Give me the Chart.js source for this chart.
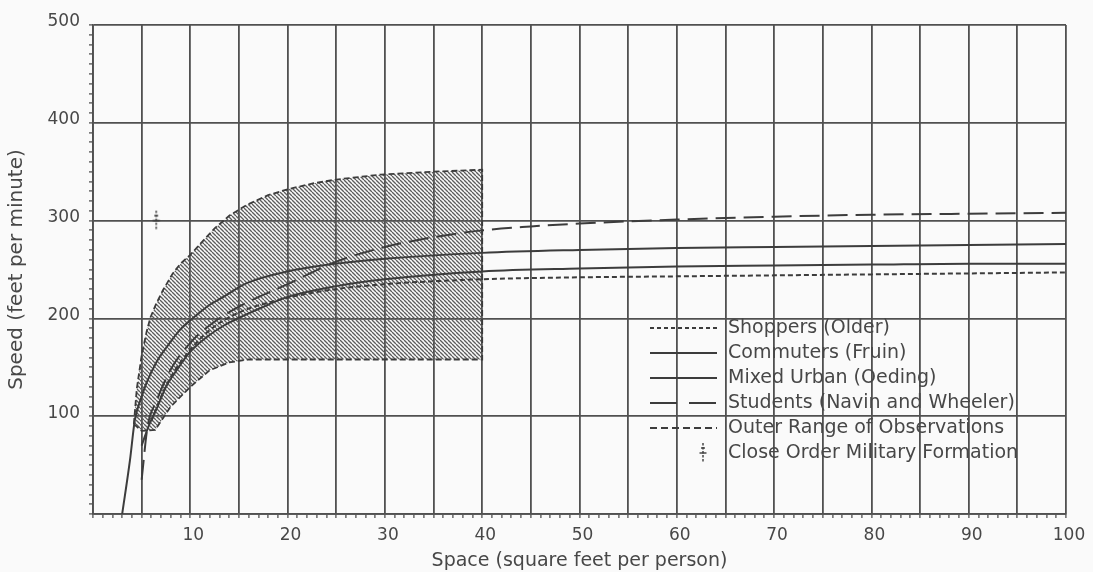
<!DOCTYPE html>
<html>
<head>
<meta charset="utf-8">
<script src="https://cdn.jsdelivr.net/npm/chart.js@4.4.1/dist/chart.umd.min.js"></script>
<style>
  html, body { margin: 0; padding: 0; background: #fafafa; }
  #wrap { width: 1093px; height: 572px; position: relative; }
</style>
</head>
<body>
<div id="wrap"><canvas id="chart" width="1093" height="572"></canvas></div>
<script>
// Tick labels
const xTickLabels = [10, 20, 30, 40, 50, 60, 70, 80, 90, 100];
const yTickLabels = [100, 200, 300, 400, 500];

// Shoppers (Older)
const shoppersX = [6, 7, 8, 10, 12, 15, 20, 25, 30, 40, 50, 60, 70, 80, 90, 100];
const shoppersY = [95, 120, 140, 168, 188, 206, 221, 230, 235, 240, 242, 243, 244, 245, 246, 247];

// Commuters (Fruin)
const commutersX = [3, 3.8, 4.3, 5, 5.5, 6.5, 7.6, 9, 10, 12, 13.4, 15.8, 20, 25, 30, 40, 50, 60, 70, 80, 90, 100];
const commutersY = [0, 55, 96, 120, 134, 155, 171, 189, 198, 214, 222, 236, 248, 256, 261, 267, 270, 272, 273, 274, 275, 276];

// Mixed Urban (Oeding)
const mixedX = [5, 5.8, 6.6, 7.5, 8.6, 10, 11.7, 13.5, 15.1, 18, 20, 25, 30, 40, 50, 60, 70, 80, 90, 100];
const mixedY = [70, 92, 109, 130, 147, 166, 181, 193, 201, 214, 222, 233, 240, 248, 251, 253, 254, 255, 256, 256];

// Students (Navin and Wheeler)
const studentsX = [5, 5.6, 6.5, 8, 10, 12, 15, 20, 25, 30, 35, 40, 45, 50, 60, 70, 80, 90, 100];
const studentsY = [35, 89, 115, 148, 175, 193, 212, 235, 258, 273, 283, 290, 294, 297, 301, 304, 306, 307, 308];

// Outer range of observations: upper edge left to right, then lower edge right to left
const outerUpperX = [4.2, 4.5, 5, 5.5, 5.9, 6.5, 7.2, 8.2, 9, 10, 11, 12.5, 14, 15.8, 18, 20, 22.6, 25, 29.5, 35, 40];
const outerUpperY = [92, 128, 162, 186, 201, 215, 229, 246, 256, 265, 276, 292, 305, 316, 326, 332, 338, 342, 347, 350, 352];
const outerLowerX = [40, 30, 20, 16, 14, 12, 10, 8, 6.4, 5, 4.2];
const outerLowerY = [158, 158, 158, 158, 155, 147, 130, 110, 86, 85, 92];

// Close order military formation
const militaryX = [6.5];
const militaryY = [300];

const pts = (xs, ys) => xs.map((x, i) => ({ x: x, y: ys[i] }));

const INK = '#3c3c3c';
const GRID = '#505050';
const TEXT = '#474747';
const FONT = "'DejaVu Sans', sans-serif";

// diagonal hatching for the observation band
function makeHatch() {
  const s = 4;
  const c = document.createElement('canvas');
  c.width = s; c.height = s;
  const g = c.getContext('2d');
  g.strokeStyle = '#5c5c5c';
  g.lineWidth = 1.35;
  g.beginPath();
  g.moveTo(0, 0); g.lineTo(s, s);
  g.moveTo(-s, 0); g.lineTo(0, s);
  g.moveTo(0, -s); g.lineTo(s, 0);
  g.moveTo(s, -s); g.lineTo(2 * s, 0);
  g.moveTo(-s, s); g.lineTo(0, 2 * s);
  g.stroke();
  return document.createElement('canvas').getContext('2d').createPattern(c, 'repeat');
}

// dotted vertical mark with cross bars
function makeMilitaryMark() {
  const c = document.createElement('canvas');
  c.width = 10; c.height = 22;
  const g = c.getContext('2d');
  g.strokeStyle = INK;
  g.lineWidth = 1.4;
  g.setLineDash([2.5, 1.5]);
  g.beginPath(); g.moveTo(5, 1); g.lineTo(5, 21); g.stroke();
  g.setLineDash([]);
  g.beginPath(); g.moveTo(1.5, 11); g.lineTo(8.5, 11); g.stroke();
  g.beginPath(); g.moveTo(3, 6); g.lineTo(7, 6); g.stroke();
  return c;
}

const hatch = makeHatch();
const militaryMark = makeMilitaryMark();

// legend drawn inside the plot area
const inPlotLegend = {
  id: 'inPlotLegend',
  afterDatasetsDraw(chart, args, o) {
    const ctx = chart.ctx;
    ctx.save();
    ctx.font = o.size + 'px ' + FONT;
    ctx.textBaseline = 'middle';
    ctx.textAlign = 'left';
    chart.data.datasets.forEach((ds, i) => {
      const y = o.top + i * o.rowGap;
      if (ds.showLine === false) {
        ctx.drawImage(ds.pointStyle, o.symbolX - ds.pointStyle.width / 2, y - ds.pointStyle.height / 2);
      } else {
        ctx.strokeStyle = ds.borderColor;
        ctx.lineWidth = ds.borderWidth;
        ctx.setLineDash(ds.legendDash || ds.borderDash || []);
        ctx.beginPath();
        ctx.moveTo(o.x0, y);
        ctx.lineTo(o.x1, y);
        ctx.stroke();
        ctx.setLineDash([]);
      }
      ctx.fillStyle = o.color;
      ctx.fillText(ds.label, o.textX, y);
    });
    ctx.restore();
  }
};

const curve = (label, data, dash, legendDash) => ({
  label: label,
  data: data,
  showLine: true,
  borderColor: INK,
  borderWidth: 2,
  borderDash: dash,
  legendDash: legendDash,
  pointRadius: 0,
  fill: false,
  cubicInterpolationMode: 'monotone'
});

new Chart(document.getElementById('chart'), {
  type: 'line',
  data: {
    datasets: [
      curve('Shoppers (Older)', pts(shoppersX, shoppersY), [5, 3], [4, 3]),
      curve('Commuters (Fruin)', pts(commutersX, commutersY), [], []),
      curve('Mixed Urban (Oeding)', pts(mixedX, mixedY), [], []),
      curve('Students (Navin and Wheeler)', pts(studentsX, studentsY), [20, 8], [27, 12]),
      {
        label: 'Outer Range of Observations',
        data: pts(outerUpperX.concat(outerLowerX), outerUpperY.concat(outerLowerY)),
        showLine: true,
        borderColor: INK,
        borderWidth: 1.8,
        borderDash: [6, 3],
        legendDash: [7, 4],
        backgroundColor: hatch,
        fill: 'shape',
        tension: 0,
        pointRadius: 0
      },
      {
        label: 'Close Order Military Formation',
        data: pts(militaryX, militaryY),
        showLine: false,
        pointStyle: militaryMark,
        pointRadius: 10,
        borderColor: INK,
        backgroundColor: INK
      }
    ]
  },
  options: {
    responsive: false,
    animation: false,
    devicePixelRatio: 1,
    events: [],
    layout: { padding: { left: 0, top: 25, right: 27, bottom: 0 } },
    plugins: {
      legend: { display: false },
      tooltip: { enabled: false },
      inPlotLegend: {
        top: 328, rowGap: 25, x0: 650, x1: 717, symbolX: 703, textX: 728,
        size: 19, color: TEXT
      }
    },
    scales: {
      x: {
        type: 'linear',
        min: 0, max: 100,
        afterFit(s) { s.height = 58; },
        ticks: {
          stepSize: 1, autoSkip: false, maxRotation: 0, minRotation: 0,
          padding: 7, labelOffset: 3,
          color: TEXT, font: { family: FONT, size: 17 },
          callback: v => xTickLabels.includes(Math.round(v)) ? String(Math.round(v)) : ''
        },
        grid: {
          color: c => (c.tick && Math.round(c.tick.value) % 5 === 0) ? GRID : 'rgba(0,0,0,0)',
          lineWidth: 1.8, tickColor: GRID, tickLength: 4, tickWidth: 1.3
        },
        border: { display: true, color: GRID, width: 1.8 },
        title: {
          display: true, text: 'Space (square feet per person)', color: TEXT,
          font: { family: FONT, size: 19, lineHeight: 1 }, padding: { top: 0, bottom: 1 }
        }
      },
      y: {
        type: 'linear',
        min: 0, max: 500,
        afterFit(s) { s.width = 93; },
        ticks: {
          stepSize: 10, autoSkip: false, padding: 9, labelOffset: -3,
          color: TEXT, font: { family: FONT, size: 17 },
          callback: v => yTickLabels.includes(Math.round(v)) ? String(Math.round(v)) : ''
        },
        grid: {
          color: c => (c.tick && Math.round(c.tick.value) % 100 === 0) ? GRID : 'rgba(0,0,0,0)',
          lineWidth: 1.8, tickColor: GRID, tickLength: 4, tickWidth: 1.3
        },
        border: { display: true, color: GRID, width: 1.8 },
        title: {
          display: true, text: 'Speed (feet per minute)', color: TEXT,
          font: { family: FONT, size: 20, lineHeight: 1 }, padding: { top: 7, bottom: 0 }
        }
      }
    }
  },
  plugins: [inPlotLegend]
});
</script>
</body>
</html>
